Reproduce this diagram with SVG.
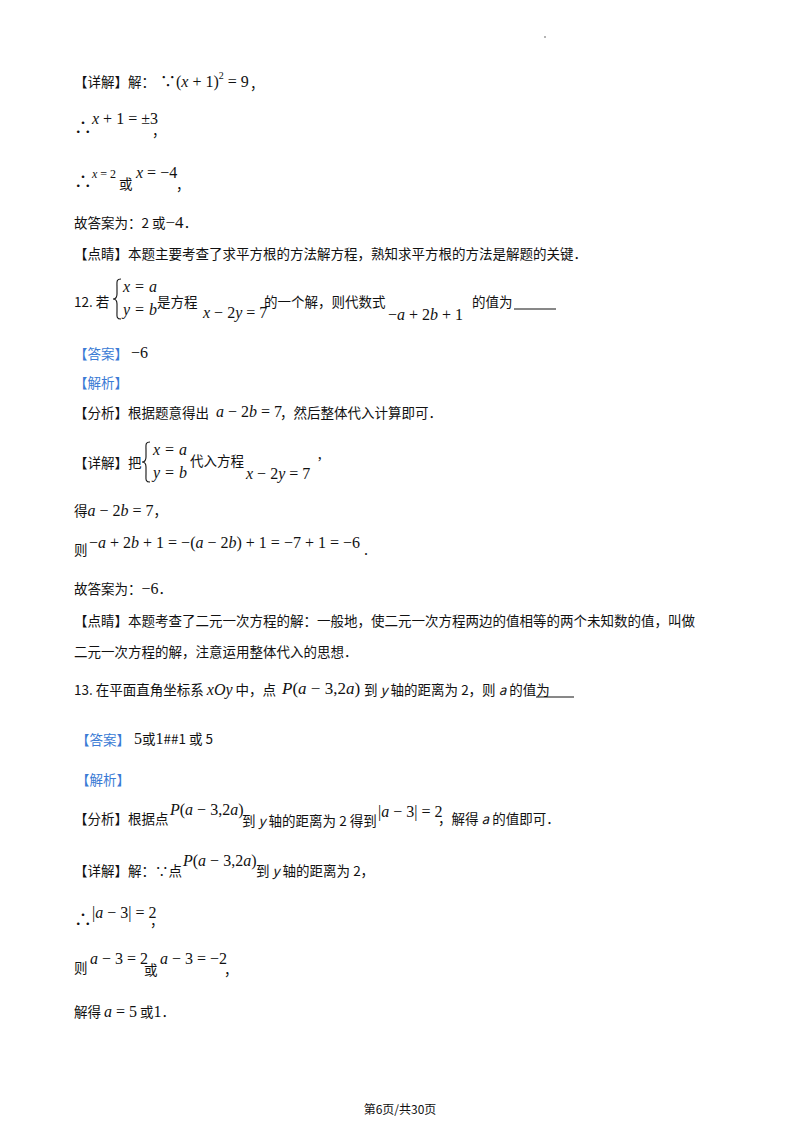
<svg xmlns="http://www.w3.org/2000/svg" width="800" height="1132" viewBox="0 0 800 1132">
<style>
text{font-family:"Liberation Serif","Noto Sans CJK SC",serif;font-size:14px;fill:#111}
.c{font-family:"Noto Sans CJK SC","Liberation Serif",sans-serif;font-size:13.5px}
.m{font-family:"Liberation Serif","Noto Sans CJK SC",serif;font-size:16px}
.i{font-style:italic}
.b{fill:#3a7bd5}
.s{font-size:12px}
.br{fill:none;stroke:#111;stroke-width:1.1}
</style>
<defs>
<path id="brace" class="br" d="M8,0 C3,0 4,3 4,8 L4,15 C4,19 2,20 0,20 C2,20 4,21 4,25 L4,32 C4,37 3,40 8,40"/>
</defs>
<rect width="800" height="1132" fill="#fff"/>
<circle cx="545" cy="37" r="0.8" fill="#555"/>
<g id="q11">
<text class="c" x="74" y="87">【详解】解：</text>
<text class="m" x="160" y="87">∵(<tspan class="i">x</tspan> + 1)<tspan dy="-8" style="font-size:10px">2</tspan><tspan dy="8"> = 9</tspan></text>
<text class="c" x="250" y="89">，</text>
<text class="m" x="74" y="134" style="font-size:18px">∴</text>
<text class="m" x="92" y="124"><tspan class="i">x</tspan> + 1 = ±3</text>
<text class="c" x="152" y="136">，</text>
<text class="m" x="74" y="188" style="font-size:18px">∴</text>
<text class="m s" x="92" y="178"><tspan class="i">x</tspan> = 2</text>
<text class="c" x="119" y="189">或</text>
<text class="m" x="136" y="178"><tspan class="i">x</tspan> = −4</text>
<text class="c" x="176" y="190">，</text>
<text class="c" x="74" y="228">故答案为：2 或<tspan class="m" style="font-size:17px">−4</tspan>．</text>
<text class="c" x="74" y="259">【点睛】本题主要考查了求平方根的方法解方程，熟知求平方根的方法是解题的关键．</text>
</g>
<g id="q12">
<text class="c" x="74" y="307">12. 若</text>
<use href="#brace" x="113" y="279"/>
<text class="m i" x="123" y="292">x = a</text>
<text class="m i" x="123" y="315">y = b</text>
<text class="c" x="157" y="307">是方程</text>
<text class="m" x="203" y="318"><tspan class="i">x</tspan> − 2<tspan class="i">y</tspan> = 7</text>
<text class="c" x="264" y="307">的一个解，则代数式</text>
<text class="m" x="388" y="320">−<tspan class="i">a</tspan> + 2<tspan class="i">b</tspan> + 1</text>
<text class="c" x="472" y="307">的值为</text>
<line x1="514" y1="309" x2="556" y2="309" stroke="#111" stroke-width="1"/>
<text class="c b" x="74" y="359">【答案】</text>
<text class="m" x="131" y="358">−6</text>
<text class="c b" x="74" y="388">【解析】</text>
<text class="c" x="74" y="418">【分析】根据题意得出</text>
<text class="m" x="216" y="417"><tspan class="i">a</tspan> − 2<tspan class="i">b</tspan> = 7</text>
<text class="c" x="280" y="418">，然后整体代入计算即可．</text>
<text class="c" x="74" y="468">【详解】把</text>
<use href="#brace" x="142" y="442"/>
<text class="m i" x="153" y="455">x = a</text>
<text class="m i" x="153" y="478">y = b</text>
<text class="c" x="190" y="466">代入方程</text>
<text class="m" x="246" y="479"><tspan class="i">x</tspan> − 2<tspan class="i">y</tspan> = 7</text>
<text class="m" x="317" y="468">’</text>
<text class="c" x="74" y="516">得<tspan class="m"><tspan class="i">a</tspan> − 2<tspan class="i">b</tspan> = 7</tspan>，</text>
<text class="c" x="74" y="555">则</text>
<text class="m" x="89" y="548">−<tspan class="i">a</tspan> + 2<tspan class="i">b</tspan> + 1 = −(<tspan class="i">a</tspan> − 2<tspan class="i">b</tspan>) + 1 = −7 + 1 = −6</text>
<text class="m" x="364" y="555">.</text>
<text class="c" x="74" y="594">故答案为：<tspan class="m">−6</tspan>．</text>
<text class="c" x="74" y="626">【点睛】本题考查了二元一次方程的解：一般地，使二元一次方程两边的值相等的两个未知数的值，叫做</text>
<text class="c" x="74" y="657">二元一次方程的解，注意运用整体代入的思想．</text>
</g>
<g id="q13">
<text class="c" x="74" y="695">13. 在平面直角坐标系 <tspan class="m i">xOy</tspan> 中，点</text>
<text class="m" x="282" y="694" style="font-size:17px"><tspan class="i">P</tspan>(<tspan class="i">a</tspan> − 3,2<tspan class="i">a</tspan>)</text>
<text class="c" x="364" y="695">到 <tspan class="i">y</tspan> 轴的距离为 2，则 <tspan class="i">a</tspan> 的值为</text>
<line x1="536" y1="697" x2="574" y2="697" stroke="#111" stroke-width="1"/>
<text class="c b" x="76" y="745">【答案】</text>
<text class="c" x="134" y="744"><tspan class="m" style="font-size:16px">5</tspan>或<tspan class="m" style="font-size:16px">1</tspan>##1 或 5</text>
<text class="c b" x="76" y="785">【解析】</text>
<text class="c" x="74" y="824">【分析】根据点</text>
<text class="m" x="170" y="815"><tspan class="i">P</tspan>(<tspan class="i">a</tspan> − 3,2<tspan class="i">a</tspan>)</text>
<text class="c" x="242" y="826">到 <tspan class="i">y</tspan> 轴的距离为 2 得到</text>
<text class="m" x="378" y="817">|<tspan class="i">a</tspan> − 3| = 2</text>
<text class="c" x="438" y="824">，解得 <tspan class="i">a</tspan> 的值即可．</text>
<text class="c" x="74" y="876">【详解】解：∵点</text>
<text class="m" x="183" y="866"><tspan class="i">P</tspan>(<tspan class="i">a</tspan> − 3,2<tspan class="i">a</tspan>)</text>
<text class="c" x="256" y="876">到 <tspan class="i">y</tspan> 轴的距离为 2，</text>
<text class="m" x="74" y="926" style="font-size:18px">∴</text>
<text class="m" x="92" y="918">|<tspan class="i">a</tspan> − 3| = 2</text>
<text class="c" x="150" y="926">，</text>
<text class="c" x="74" y="973">则</text>
<text class="m" x="90" y="964"><tspan class="i">a</tspan> − 3 = 2</text>
<text class="c" x="144" y="975">或</text>
<text class="m" x="160" y="964"><tspan class="i">a</tspan> − 3 = −2</text>
<text class="c" x="224" y="975">，</text>
<text class="c" x="74" y="1017">解得 <tspan class="m i">a</tspan><tspan class="m"> = 5</tspan> 或<tspan class="m">1</tspan>．</text>
</g>
<text class="c" x="400" y="1114" text-anchor="middle" style="font-size:12px">第6页/共30页</text>
</svg>
